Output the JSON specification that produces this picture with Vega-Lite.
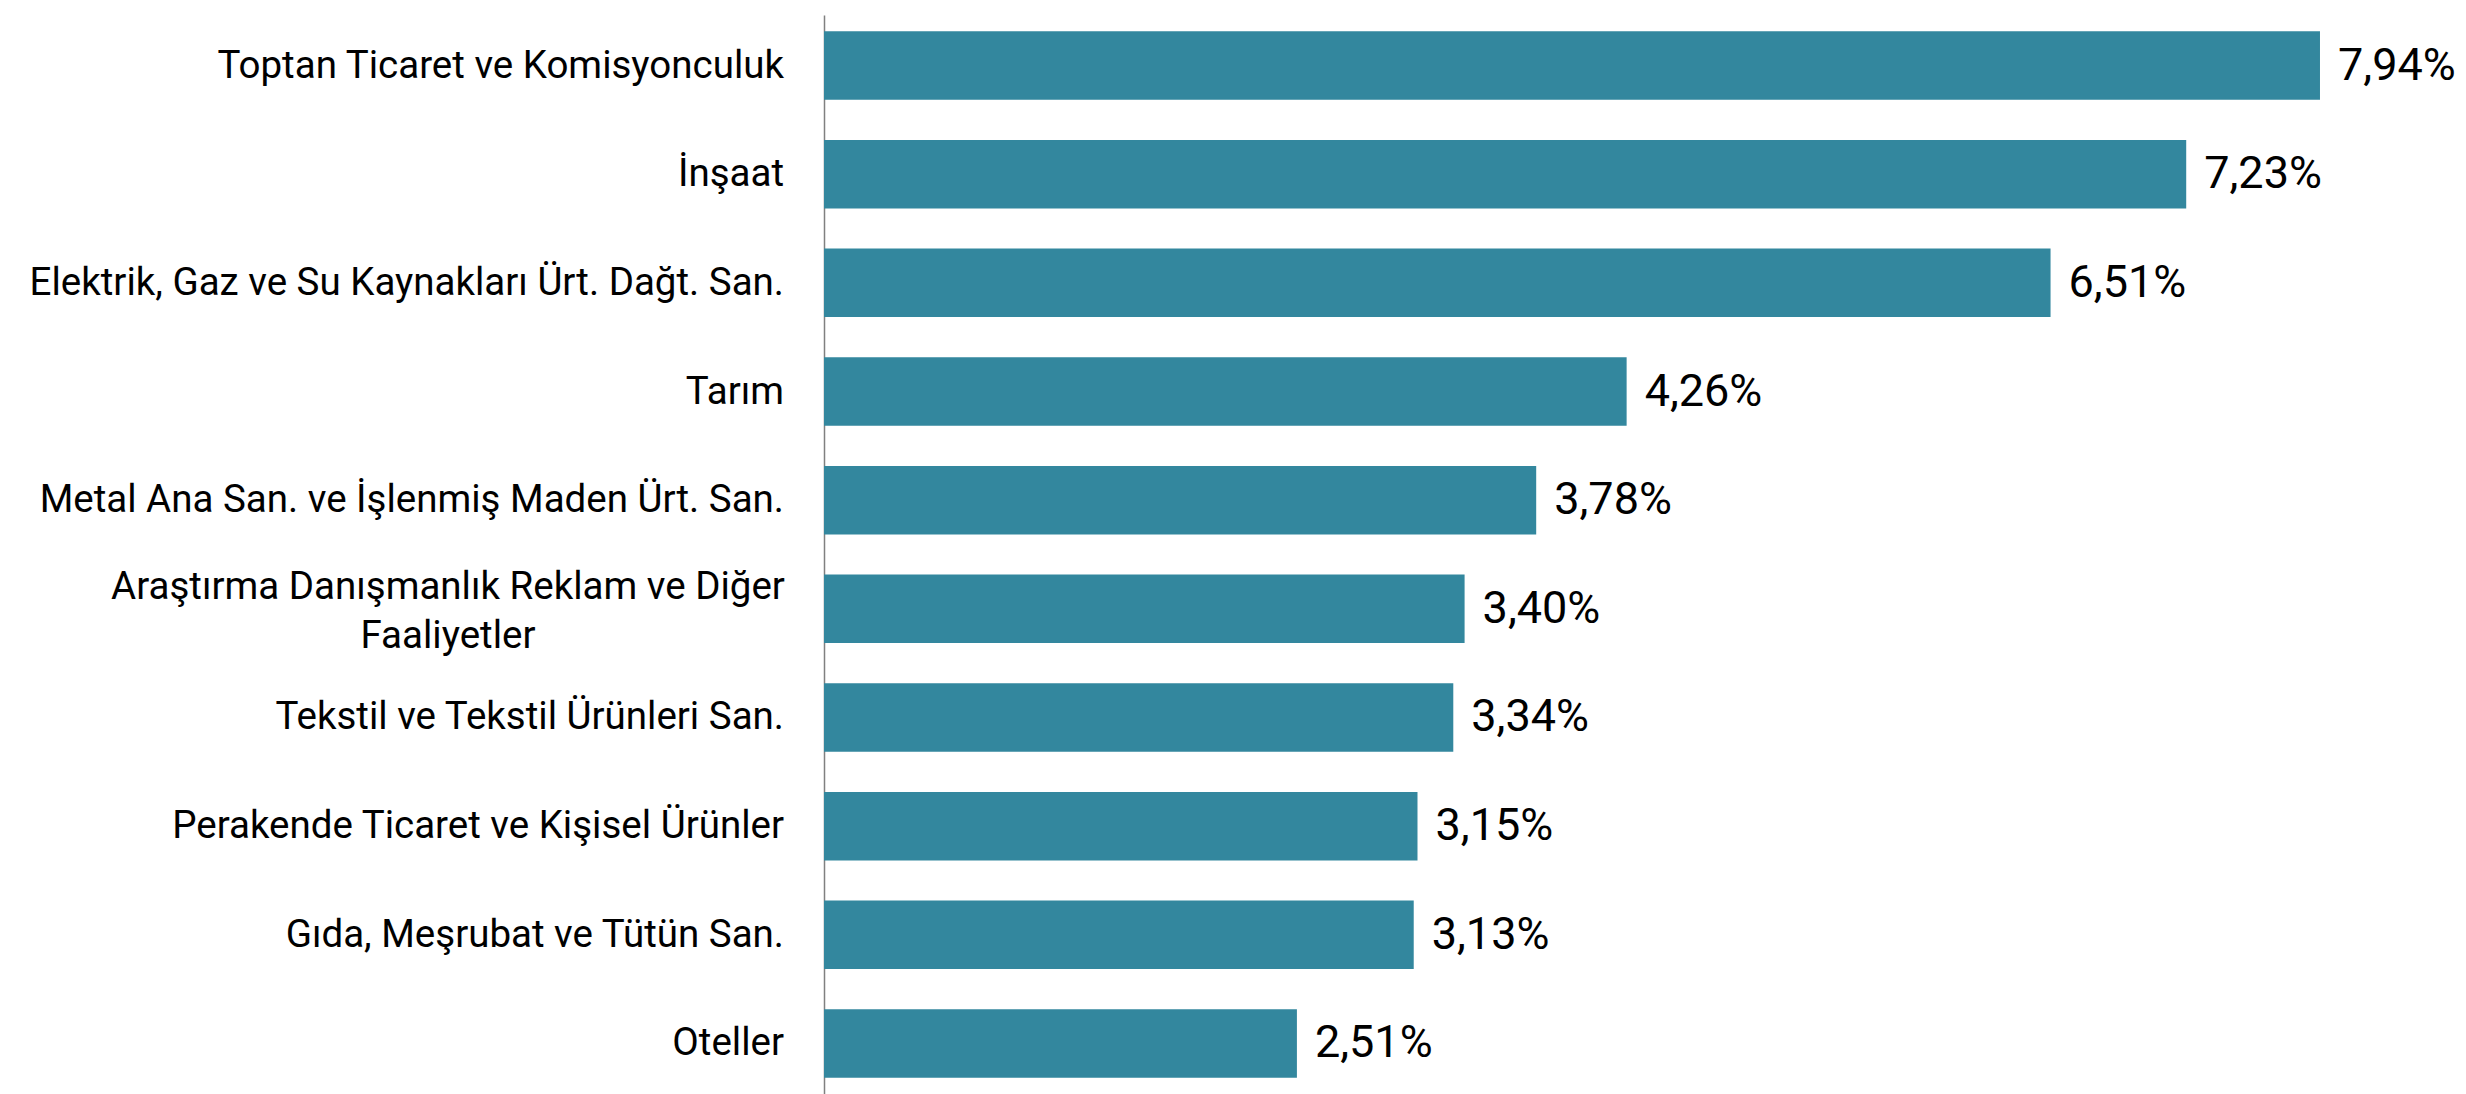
{
  "$schema": "https://vega.github.io/schema/vega-lite/v6.json",
  "autosize": "none",
  "padding": {"left": 824, "top": 15, "right": 0, "bottom": 0},
  "width": 1642,
  "height": 1079,
  "config": {
    "view": {"stroke": null},
    "locale": {"number": {"decimal": ",", "thousands": ".", "grouping": [3], "currency": ["", " ₺"]}}
  },
  "data": {
    "values": [
      {"sektor": "Toptan Ticaret ve Komisyonculuk", "deger": 0.0794, "cok": false},
      {"sektor": "İnşaat", "deger": 0.0723, "cok": false},
      {"sektor": "Elektrik, Gaz ve Su Kaynakları Ürt. Dağt. San.", "deger": 0.0651, "cok": false},
      {"sektor": "Tarım", "deger": 0.0426, "cok": false},
      {"sektor": "Metal Ana San. ve İşlenmiş Maden Ürt. San.", "deger": 0.0378, "cok": false},
      {"sektor": "Araştırma Danışmanlık Reklam ve Diğer|Faaliyetler", "deger": 0.034, "cok": true},
      {"sektor": "Tekstil ve Tekstil Ürünleri San.", "deger": 0.0334, "cok": false},
      {"sektor": "Perakende Ticaret ve Kişisel Ürünler", "deger": 0.0315, "cok": false},
      {"sektor": "Gıda, Meşrubat ve Tütün San.", "deger": 0.0313, "cok": false},
      {"sektor": "Oteller", "deger": 0.0251, "cok": false}
    ]
  },
  "encoding": {
    "y": {
      "field": "sektor",
      "type": "nominal",
      "sort": null,
      "scale": {"paddingInner": 0.37, "paddingOuter": 0.15},
      "axis": {
        "title": null,
        "ticks": false,
        "labels": false,
        "domain": true,
        "domainColor": "#808080",
        "domainWidth": 1.5
      }
    }
  },
  "layer": [
    {
      "mark": {"type": "bar", "color": "#33879e"},
      "encoding": {
        "x": {
          "field": "deger",
          "type": "quantitative",
          "scale": {"domain": [0, 0.08715], "nice": false, "zero": true},
          "axis": null
        }
      }
    },
    {
      "mark": {
        "type": "text",
        "align": "left",
        "baseline": "middle",
        "dx": 18,
        "font": "Roboto, sans-serif",
        "fontSize": 45,
        "color": "#000000"
      },
      "encoding": {
        "x": {"field": "deger", "type": "quantitative"},
        "text": {"field": "deger", "type": "quantitative", "format": ".2%"}
      }
    },
    {
      "transform": [{"filter": "!datum.cok"}],
      "mark": {
        "type": "text",
        "align": "right",
        "baseline": "middle",
        "dx": -40,
        "font": "Roboto, sans-serif",
        "fontSize": 38.5,
        "color": "#000000"
      },
      "encoding": {
        "x": {"datum": 0, "type": "quantitative"},
        "text": {"field": "sektor", "type": "nominal"}
      }
    },
    {
      "transform": [{"filter": "datum.cok"}],
      "mark": {
        "type": "text",
        "align": "center",
        "baseline": "middle",
        "lineBreak": "|",
        "lineHeight": 49,
        "dx": -376,
        "dy": -22,
        "font": "Roboto, sans-serif",
        "fontSize": 38.5,
        "color": "#000000"
      },
      "encoding": {
        "x": {"datum": 0, "type": "quantitative"},
        "text": {"field": "sektor", "type": "nominal"}
      }
    }
  ]
}
